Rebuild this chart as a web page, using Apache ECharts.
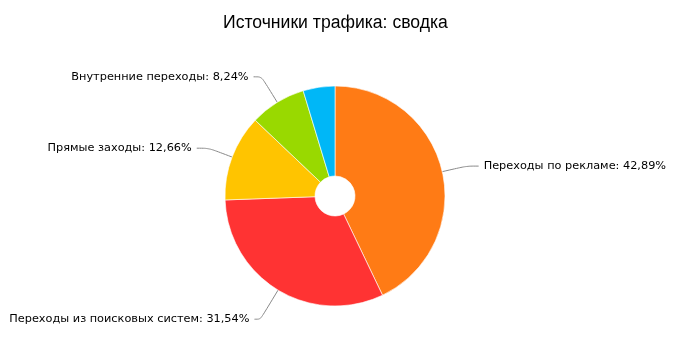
<!DOCTYPE html>
<html><head><meta charset="utf-8">
<script src="https://cdn.jsdelivr.net/npm/echarts@6/dist/echarts.min.js"></script>
<style>html,body{margin:0;padding:0;background:#fff}#c{width:688px;height:343px}</style>
</head><body><div id="c"></div>
<script>
var categories = ["Переходы по рекламе", "Переходы из поисковых систем", "Прямые заходы", "Внутренние переходы", "Прочее"];
var values = [42.89, 31.54, 12.66, 8.24, 4.67];
var colors = ["#ff7b15", "#ff3333", "#ffc400", "#99d900", "#00b7f7"];
var showLabel = [true, true, true, true, false];
var lineLen = [25, 34, 25, 30, 20];
var lineLen2 = [12, 6, 12, 8, 10];

var chart = echarts.init(document.getElementById('c'));
chart.setOption({
  animation: false,
  title: {
    text: "Источники трафика: сводка",
    left: 218, top: 9,
    textStyle: {fontFamily: 'Liberation Sans', fontSize: 17.6, fontWeight: 'normal', color: '#000'}
  },
  series: [{
    type: 'pie',
    center: [335, 196],
    radius: [20, 110],
    startAngle: 90,
    clockwise: true,
    avoidLabelOverlap: false,
    itemStyle: {borderColor: 'rgba(255,255,255,0.6)', borderWidth: 1},
    label: {
      fontFamily: 'DejaVu Sans', fontSize: 11.3, color: '#000',
      formatter: function(p){ return p.name + ': ' + p.value.toFixed(2).replace('.', ',') + '%'; }
    },
    labelLine: {smooth: 0.3, lineStyle: {color: '#888', width: 1}},
    data: categories.map(function(n, i){
      return {name: n, value: values[i], itemStyle: {color: colors[i]},
        label: {show: showLabel[i]},
        labelLine: {show: showLabel[i], length: lineLen[i], length2: lineLen2[i]}};
    })
  }]
});
</script></body></html>
